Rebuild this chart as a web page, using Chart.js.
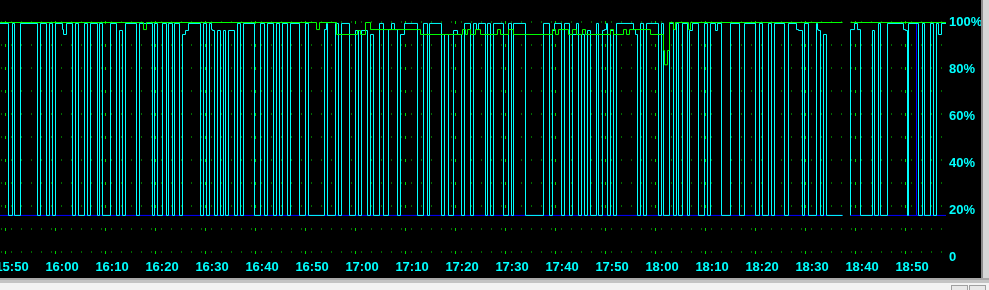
<!DOCTYPE html>
<html>
<head>
<meta charset="utf-8">
<script src="https://cdn.jsdelivr.net/npm/chart.js@4/dist/chart.umd.min.js"></script>
<style>
  html, body { margin: 0; padding: 0; }
  body { width: 989px; height: 290px; overflow: hidden; background: #f3f3f3; position: relative; }
  #plot { position: absolute; left: 0; top: 0; width: 981px; height: 278px; background: #000; }
  #rightEdge { position: absolute; left: 981px; top: 0; width: 6px; height: 281px; background: #d6d6d6; border-left: 2px solid #8c8c8c; }
  #bottomEdge { position: absolute; left: 0; top: 278px; width: 989px; height: 3px; background: #c4c4c4; border-top: 2px solid #a8a8a8; }
  .btn { position: absolute; top: 285px; width: 15px; height: 10px; border: 1px solid #a0a0a0; background: #e8e8e8; }
</style>
</head>
<body>
<div id="plot"><canvas id="cpuChart" width="981" height="278"></canvas></div>
<div id="rightEdge"></div>
<div id="bottomEdge"></div>
<div class="btn" style="left:951px"></div>
<div class="btn" style="left:969px"></div>
<script>
// Time axis: minutes after 15:50
const timeLabels = ['15:50', '16:00', '16:10', '16:20', '16:30', '16:40', '16:50', '17:00', '17:10', '17:20',
  '17:30', '17:40', '17:50', '18:00', '18:10', '18:20', '18:30', '18:40', '18:50'];
const yTickLabels = ['0', '20%', '40%', '60%', '80%', '100%'];

// [minute, percent] change points, each value holds until the next point (null = no data)
const cyanSteps = [
  [-1.1, 99.6], [0.6, 17.9], [1.4, 99.6], [1.8, 17.9], [3.0, 99.6], [6.4, 17.9], [7.0, 99.6], [8.2, 17.9], [8.8, 99.6], [9.4, 17.9],
  [10.0, 99.6], [11.4, 97.0], [11.6, 94.9], [12.2, 99.6], [13.4, 17.9], [14.0, 99.6], [14.6, 17.9], [15.8, 99.6], [16.4, 17.9], [17.0, 99.6],
  [18.4, 17.9], [18.8, 99.6], [19.4, 17.9], [21.0, 99.6], [22.2, 17.9], [22.8, 96.6], [23.4, 17.9], [24.0, 99.6], [26.2, 17.9], [26.8, 99.6],
  [29.4, 17.9], [29.8, 99.6], [30.4, 17.9], [31.4, 99.6], [32.2, 17.9], [32.6, 99.6], [33.4, 17.9], [33.8, 99.6], [34.8, 17.9], [35.4, 94.9],
  [36.0, 96.6], [36.6, 99.6], [39.0, 17.9], [39.6, 99.6], [40.2, 17.9], [40.8, 99.6], [41.2, 97.0], [41.4, 96.6], [41.8, 17.9], [42.4, 96.6],
  [43.0, 17.9], [43.6, 96.6], [44.0, 17.9], [44.6, 96.6], [45.8, 17.9], [46.4, 99.6], [47.0, 17.9], [47.6, 99.6], [49.8, 17.9], [51.0, 99.6],
  [51.8, 17.9], [52.4, 99.6], [53.6, 17.9], [54.2, 99.6], [54.8, 17.9], [55.4, 99.6], [56.4, 17.9], [57.0, 99.6], [58.8, 17.9], [60.0, 99.6],
  [60.6, 17.9], [63.8, 97.0], [64.2, 99.6], [64.4, 17.9], [66.0, 99.6], [66.6, 17.9], [67.2, 99.6], [68.8, 17.9], [70.0, 96.6], [70.6, 17.9],
  [71.2, 96.6], [72.4, 17.9], [73.0, 94.9], [73.6, 17.9], [74.8, 99.6], [75.6, 17.9], [76.6, 97.0], [77.2, 99.6], [77.8, 97.0], [78.4, 17.9],
  [79.0, 94.9], [79.8, 99.6], [82.4, 17.9], [83.6, 99.6], [84.4, 17.9], [84.8, 99.6], [87.2, 17.9], [87.8, 94.9], [88.6, 17.9], [89.6, 96.6],
  [90.4, 94.9], [91.2, 17.9], [91.8, 99.6], [93.0, 17.9], [93.6, 99.6], [94.2, 97.0], [94.6, 99.6], [96.0, 17.9], [96.4, 99.6], [97.0, 17.9],
  [97.6, 99.6], [99.6, 17.9], [100.6, 99.6], [101.2, 17.9], [101.6, 99.6], [104.0, 17.9], [107.6, 99.6], [108.8, 17.9], [109.4, 96.6], [109.8, 99.6],
  [111.2, 17.9], [111.8, 99.6], [112.8, 17.9], [113.4, 94.9], [114.2, 99.6], [114.6, 17.9], [115.2, 94.9], [115.8, 17.9], [116.4, 96.6], [117.0, 17.9],
  [118.2, 99.6], [118.6, 17.9], [119.4, 96.6], [119.8, 97.0], [120.2, 99.6], [120.4, 17.9], [121.0, 96.6], [121.6, 17.9], [122.2, 99.6], [125.6, 97.0],
  [126.0, 94.9], [126.4, 17.9], [127.0, 99.6], [127.6, 17.9], [128.2, 99.6], [130.6, 17.9], [131.2, 99.6], [131.6, 17.9], [132.8, 99.6], [133.6, 17.9],
  [134.2, 99.6], [134.6, 17.9], [135.4, 99.6], [136.4, 17.9], [136.8, 96.6], [137.4, 99.6], [138.6, 17.9], [139.8, 99.6], [140.4, 17.9], [141.0, 99.6],
  [142.0, 96.6], [142.4, 99.6], [143.2, 17.9], [145.0, 99.6], [146.8, 17.9], [147.8, 99.6], [150.0, 17.9], [150.8, 99.6], [151.4, 17.9], [152.6, 99.6],
  [153.2, 17.9], [153.8, 99.6], [155.8, 17.9], [156.6, 99.6], [158.2, 97.0], [158.6, 96.6], [159.4, 17.9], [159.8, 99.6], [160.6, 17.9], [162.2, 99.6],
  [162.4, 97.0], [162.6, 96.6], [163.0, 17.9], [163.6, 94.9], [164.2, 17.9], [167.4, 17.9], [167.4, null], [169.0, 17.9], [169.0, 97.0], [169.8, 99.6],
  [170.4, 97.0], [171.0, 17.9], [173.4, 96.6], [173.8, 17.9], [174.6, 99.6], [175.0, 17.9], [176.4, 99.6], [179.6, 97.0], [180.0, 96.6], [180.4, 17.9],
  [180.6, 99.6], [182.6, 17.9], [183.4, 99.6], [183.8, 17.9], [185.0, 99.6], [185.6, 17.9], [186.2, 99.6], [186.6, 94.9], [187.2, 99.6], [188.1, 99.6]
];

const greenSteps = [
  [-1.1, 100], [27.6, 97.0], [28.2, 100], [62.2, 97.0], [62.8, 100], [66.2, 94.9], [70.4, 96.6], [71.0, 94.9], [72.0, 100], [73.0, 97.0],
  [83.0, 94.9], [91.4, 97.0], [92.0, 94.9], [92.4, 97.0], [93.0, 94.9], [94.0, 97.0], [95.0, 94.9], [98.4, 97.0], [99.0, 94.9], [100.6, 97.0],
  [101.6, 94.9], [109.4, 97.0], [110.0, 94.9], [110.6, 97.0], [112.6, 94.9], [113.4, 97.0], [114.2, 94.9], [115.4, 97.0], [116.0, 94.9], [121.0, 97.0],
  [121.6, 94.9], [123.6, 97.0], [124.2, 94.9], [124.8, 97.0], [129.0, 94.9], [131.6, 88.1], [131.8, 82.0], [132.4, 88.1], [132.8, 100], [133.6, 97.0],
  [134.0, 100], [136.6, 97.0], [137.0, 100], [167.4, 100], [167.4, null], [169.0, 100], [188.1, 100]
];

const blueSteps = [
  [-1.1, 17.9], [167.4, 17.9], [167.4, null], [169.0, 17.9], [182.2, 99.6], [182.2, 17.9], [188.1, 17.9]
];

const CYAN = '#00ffff';
const GREEN = '#00ff00';
const BLUE = '#0000ff';
const tickFont = { family: 'Liberation Sans', size: 13, weight: 'bold' };

function toPoints(steps) {
  return steps.map(([x, y]) => ({ x, y }));
}

function makeSeries(label, steps, color) {
  return {
    label,
    data: toPoints(steps),
    borderColor: color,
    borderWidth: 1,
    pointRadius: 0,
    stepped: true,
    tension: 0,
    spanGaps: false,
    clip: 3
  };
}

// dotted background grid, bright dots on the 10 minute marks
const dotGrid = {
  id: 'dotGrid',
  beforeDatasetsDraw(chart) {
    const { ctx, chartArea, scales } = chart;
    ctx.save();
    for (let k = 0; k <= 10; k++) {
      const y = Math.round(20.5 + 23.05 * k);
      ctx.fillStyle = '#006c00';
      for (let x = 1; x < chartArea.right; x += 10) ctx.fillRect(x, y, 1, 2);
      ctx.fillStyle = '#00d000';
      scales.x.ticks.forEach((t) => {
        ctx.fillRect(Math.floor(scales.x.getPixelForValue(t.value)), y, 1, 3);
      });
    }
    ctx.restore();
  }
};

new Chart(document.getElementById('cpuChart'), {
  type: 'line',
  data: {
    datasets: [
      makeSeries('Memory', greenSteps, GREEN),
      makeSeries('CPU', cyanSteps, CYAN),
      makeSeries('Kernel', blueSteps, BLUE)
    ]
  },
  options: {
    responsive: false,
    animation: false,
    devicePixelRatio: 1,
    layout: { padding: { top: 22.5, left: 0, right: 0, bottom: 0 } },
    plugins: { legend: { display: false }, tooltip: { enabled: false } },
    scales: {
      x: {
        type: 'linear',
        bounds: 'data',
        min: -1.1,
        max: 188.1,
        grid: { display: false, drawTicks: false },
        border: { display: false },
        afterBuildTicks: (scale) => {
          scale.ticks = timeLabels.map((_, i) => ({ value: i * 10 }));
        },
        ticks: {
          autoSkip: false,
          maxRotation: 0,
          minRotation: 0,
          labelOffset: 6.5,
          padding: 2,
          color: CYAN,
          font: tickFont,
          callback: (v) => timeLabels[Math.round(v / 10)] ?? ''
        },
        afterFit: (scale) => {
          scale.height = 20.5;
          scale.paddingLeft = 0;
          scale.paddingRight = 0;
        }
      },
      y: {
        position: 'right',
        bounds: 'data',
        min: 0,
        max: 100,
        grid: { display: false, drawTicks: false },
        border: { display: false },
        ticks: {
          stepSize: 20,
          autoSkip: false,
          padding: 3,
          color: CYAN,
          font: tickFont,
          callback: (v) => yTickLabels[Math.round(v / 20)] ?? ''
        },
        afterFit: (scale) => {
          scale.width = 35;
          scale.paddingTop = 0;
          scale.paddingBottom = 0;
        }
      }
    }
  },
  plugins: [dotGrid]
});
</script>
</body>
</html>
